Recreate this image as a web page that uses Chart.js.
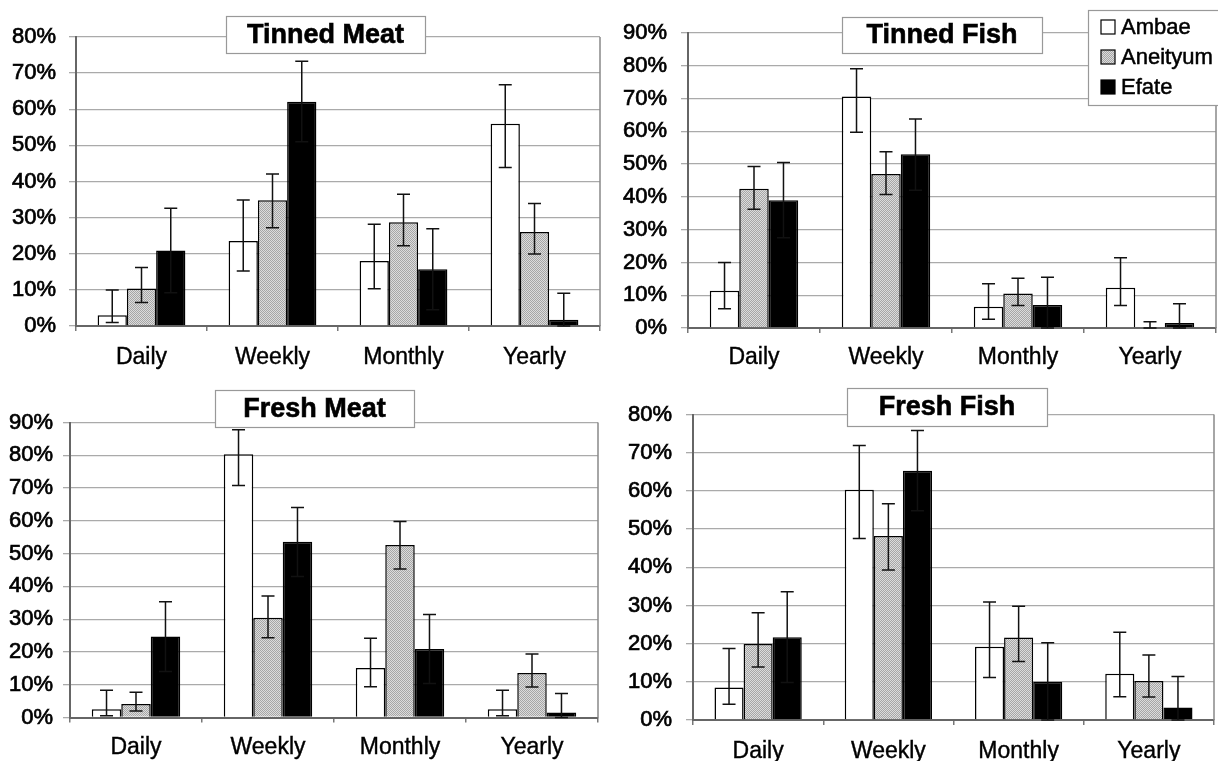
<!DOCTYPE html>
<html>
<head>
<meta charset="utf-8">
<script src="https://cdn.jsdelivr.net/npm/chart.js@4.4.1/dist/chart.umd.min.js"></script>
<style>
  body { margin: 0; background: #fff; width: 1218px; height: 761px; overflow: hidden; position: relative; }
  canvas { position: absolute; }
</style>
</head>
<body>
<canvas id="tinnedMeat" width="609" height="380" style="left:0;top:0"></canvas>
<canvas id="tinnedFish" width="609" height="380" style="left:609px;top:0"></canvas>
<canvas id="freshMeat" width="609" height="381" style="left:0;top:380px"></canvas>
<canvas id="freshFish" width="609" height="381" style="left:609px;top:380px"></canvas>
<script>
// frequency of consumption, % of households, with error bars (low / high)
const categories = ['Daily', 'Weekly', 'Monthly', 'Yearly'];
const islands = ['Ambae', 'Aneityum', 'Efate'];

const tinnedMeatAmbae = [3, 23.5, 18, 56];
const tinnedMeatAmbaeLo = [1, 15.2, 10.3, 43.9];
const tinnedMeatAmbaeHi = [10, 34.9, 28.2, 66.8];
const tinnedMeatAneityum = [10.4, 34.8, 28.7, 26];
const tinnedMeatAneityumLo = [6.5, 27.2, 22.2, 19.9];
const tinnedMeatAneityumHi = [16.2, 42.1, 36.5, 33.9];
const tinnedMeatEfate = [20.9, 62.1, 15.7, 1.7];
const tinnedMeatEfateLo = [9.2, 51, 4.5, 0];
const tinnedMeatEfateHi = [32.6, 73.3, 26.9, 9.1];

const tinnedFishAmbae = [11.4, 70.6, 6.5, 12.3];
const tinnedFishAmbaeLo = [5.9, 59.7, 2.7, 6.9];
const tinnedFishAmbaeHi = [20, 79.1, 13.5, 21.4];
const tinnedFishAneityum = [42.5, 47, 10.5, 0];
const tinnedFishAneityumLo = [36.2, 40.7, 6.9, 0];
const tinnedFishAneityumHi = [49.3, 53.8, 15.2, 1.9];
const tinnedFishEfate = [39, 53, 7, 1.5];
const tinnedFishEfateLo = [27.5, 42, 0, 0];
const tinnedFishEfateHi = [50.5, 63.8, 15.5, 7.4];

const freshMeatAmbae = [2.5, 80.3, 15.1, 2.5];
const freshMeatAmbaeLo = [0.5, 70.8, 9.4, 0.5];
const freshMeatAmbaeHi = [8.3, 87.8, 24.2, 8.3];
const freshMeatAneityum = [4.1, 30.4, 52.6, 13.6];
const freshMeatAneityumLo = [2, 24.3, 45.3, 9.3];
const freshMeatAneityumHi = [7.7, 37.1, 59.8, 19.4];
const freshMeatEfate = [24.7, 53.6, 20.9, 1.5];
const freshMeatEfateLo = [14, 43, 10.4, 0];
const freshMeatEfateHi = [35.3, 64.1, 31.4, 7.3];

const freshFishAmbae = [8.5, 60.3, 19.2, 12.1];
const freshFishAmbaeLo = [4.1, 47.5, 11.1, 6.1];
const freshFishAmbaeHi = [18.7, 71.9, 30.9, 23];
const freshFishAneityum = [19.9, 48.2, 21.6, 10.2];
const freshFishAneityumLo = [13.9, 39.3, 15.3, 6];
const freshFishAneityumHi = [28.1, 56.6, 29.8, 17];
const freshFishEfate = [21.7, 65.3, 10, 3.3];
const freshFishEfateLo = [9.8, 54.8, 0, 0];
const freshFishEfateHi = [33.6, 75.8, 20.2, 11.4];

Chart.defaults.font.family = '"Liberation Sans", Arial, sans-serif';
Chart.defaults.color = '#000';

// fine dotted grey fill like the scanned figure
function dotPattern() {
  const c = document.createElement('canvas');
  c.width = 2; c.height = 2;
  const g = c.getContext('2d');
  g.fillStyle = '#dcdcdc'; g.fillRect(0, 0, 2, 2);
  g.fillStyle = '#a6a6a6'; g.fillRect(0, 0, 1, 1); g.fillRect(1, 1, 1, 1);
  return g.createPattern(c, 'repeat');
}

const fills = ['#ffffff', null, '#000000'];

const errorBars = {
  id: 'errorBars',
  afterDatasetsDraw(chart) {
    const ctx = chart.ctx, y = chart.scales.y;
    ctx.save();
    ctx.strokeStyle = '#111';
    ctx.lineWidth = 1.5;
    chart.data.datasets.forEach((ds, i) => {
      chart.getDatasetMeta(i).data.forEach((bar, j) => {
        const top = y.getPixelForValue(ds.hi[j]);
        const bot = y.getPixelForValue(ds.lo[j]);
        ctx.beginPath();
        ctx.moveTo(bar.x, top); ctx.lineTo(bar.x, bot);
        ctx.moveTo(bar.x - 6.5, top); ctx.lineTo(bar.x + 6.5, top);
        ctx.moveTo(bar.x - 6.5, bot); ctx.lineTo(bar.x + 6.5, bot);
        ctx.stroke();
      });
    });
    ctx.restore();
  }
};

const panelDecor = {
  id: 'panelDecor',
  afterDraw(chart, args, opts) {
    const ctx = chart.ctx, a = chart.chartArea;
    ctx.save();
    // right edge of plot frame
    ctx.strokeStyle = '#888';
    ctx.lineWidth = 1.5;
    ctx.beginPath();
    ctx.moveTo(a.right, a.top); ctx.lineTo(a.right, a.bottom);
    ctx.stroke();
    // title box
    const [bx, by, bw, bh] = opts.box;
    ctx.fillStyle = '#fff';
    ctx.fillRect(bx, by, bw, bh);
    ctx.strokeStyle = '#999';
    ctx.lineWidth = 1.2;
    ctx.strokeRect(bx + 0.5, by + 0.5, bw, bh);
    ctx.fillStyle = '#000';
    ctx.strokeStyle = '#000';
    ctx.lineWidth = 0.6;
    ctx.font = 'bold 27px "Liberation Sans", Arial, sans-serif';
    ctx.textAlign = 'center';
    ctx.textBaseline = 'middle';
    ctx.fillText(opts.title, bx + bw / 2, by + bh / 2 + 1);
    ctx.strokeText(opts.title, bx + bw / 2, by + bh / 2 + 1);
    // legend (only on one panel)
    if (opts.legend) {
      const [lx, ly, lw, lh] = opts.legend;
      ctx.fillStyle = '#fff';
      ctx.fillRect(lx, ly, lw, lh);
      ctx.strokeStyle = '#999';
      ctx.lineWidth = 1.2;
      ctx.strokeRect(lx + 0.5, ly + 0.5, lw, lh);
      ctx.font = '22px "Liberation Sans", Arial, sans-serif';
      ctx.textAlign = 'left';
      chart.data.datasets.forEach((ds, i) => {
        const cy = ly + 17 + i * 30;
        ctx.fillStyle = ds.backgroundColor;
        ctx.fillRect(lx + 13, cy - 7, 14, 14);
        ctx.strokeStyle = '#000';
        ctx.lineWidth = 1.2;
        ctx.strokeRect(lx + 13, cy - 7, 14, 14);
        ctx.fillStyle = '#000';
        ctx.lineWidth = 0.5;
        ctx.fillText(ds.label, lx + 33, cy + 1);
        ctx.strokeText(ds.label, lx + 33, cy + 1);
      });
    }
    ctx.restore();
  }
};

function makePanel(id, title, maxV, vals, lows, highs, lay) {
  const pattern = dotPattern();
  return new Chart(document.getElementById(id), {
    type: 'bar',
    data: {
      labels: categories,
      datasets: islands.map((name, i) => ({
        label: name,
        data: vals[i],
        lo: lows[i],
        hi: highs[i],
        backgroundColor: fills[i] || pattern,
        borderColor: '#000',
        borderWidth: 1.5,
        categoryPercentage: 0.67,
        barPercentage: 1.0
      }))
    },
    options: {
      responsive: false,
      animation: false,
      devicePixelRatio: 1,
      layout: { padding: { top: lay.T, right: lay.R, left: 0, bottom: 0 } },
      plugins: {
        legend: { display: false },
        tooltip: { enabled: false },
        panelDecor: { title: title, box: lay.box, legend: lay.legend }
      },
      scales: {
        x: {
          afterFit: s => { s.height = lay.H; },
          grid: { drawOnChartArea: false, tickLength: 5, color: '#777', lineWidth: 1.5 },
          border: { color: '#666', width: 2 },
          ticks: { font: { size: 23 }, padding: lay.xPad, maxRotation: 0,
                   textStrokeColor: '#000', textStrokeWidth: 0.4 }
        },
        y: {
          min: 0,
          max: maxV,
          afterFit: s => { s.width = lay.L; },
          grid: { color: '#aaa', lineWidth: 1.3, tickLength: 7 },
          border: { color: '#666', width: 2 },
          ticks: {
            stepSize: 10,
            padding: lay.yPad,
            font: { size: 22 },
            textStrokeColor: '#000',
            textStrokeWidth: 0.7,
            callback: v => v + '%'
          }
        }
      }
    },
    plugins: [errorBars, panelDecor]
  });
}

makePanel('tinnedMeat', 'Tinned Meat', 80,
  [tinnedMeatAmbae, tinnedMeatAneityum, tinnedMeatEfate],
  [tinnedMeatAmbaeLo, tinnedMeatAneityumLo, tinnedMeatEfateLo],
  [tinnedMeatAmbaeHi, tinnedMeatAneityumHi, tinnedMeatEfateHi],
  { L: 76, T: 37, R: 9, H: 54, xPad: 13, yPad: 13, box: [226, 16, 199, 37] });

makePanel('tinnedFish', 'Tinned Fish', 90,
  [tinnedFishAmbae, tinnedFishAneityum, tinnedFishEfate],
  [tinnedFishAmbaeLo, tinnedFishAneityumLo, tinnedFishEfateLo],
  [tinnedFishAmbaeHi, tinnedFishAneityumHi, tinnedFishEfateHi],
  { L: 79, T: 33, R: 2, H: 52, xPad: 11, yPad: 14, box: [233, 17, 200, 36],
    legend: [479, 10, 132, 95] });

makePanel('freshMeat', 'Fresh Meat', 90,
  [freshMeatAmbae, freshMeatAneityum, freshMeatEfate],
  [freshMeatAmbaeLo, freshMeatAneityumLo, freshMeatEfateLo],
  [freshMeatAmbaeHi, freshMeatAneityumHi, freshMeatEfateHi],
  { L: 70, T: 42.5, R: 11, H: 43.5, xPad: 11, yPad: 10, box: [215, 10, 199, 37] });

makePanel('freshFish', 'Fresh Fish', 80,
  [freshFishAmbae, freshFishAneityum, freshFishEfate],
  [freshFishAmbaeLo, freshFishAneityumLo, freshFishEfateLo],
  [freshFishAmbaeHi, freshFishAneityumHi, freshFishEfateHi],
  { L: 84, T: 34.5, R: 4, H: 41, xPad: 13, yPad: 14, box: [238, 8, 200, 38] });
</script>
</body>
</html>
